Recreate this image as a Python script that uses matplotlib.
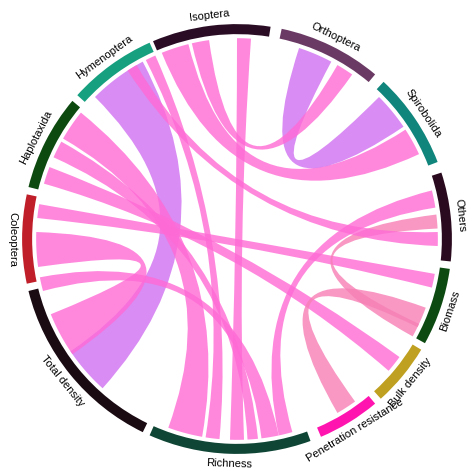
import numpy as np
import matplotlib.pyplot as plt
from matplotlib.path import Path
from matplotlib.patches import PathPatch, Wedge

plt.rcParams['font.family'] = ['Liberation Sans', 'DejaVu Sans']

# SECTION Data

names = ["Isoptera", "Orthoptera", "Spirobolida", "Others", "Biomass", "Bulk density",
         "Penetration resistance", "Richness", "Total density", "Coleoptera",
         "Haplotaxida", "Hymenoptera"]
# start / end angle of each sector (degrees, counter-clockwise from east)
starts = [81, 50, 21, -6, -29, -48, -67, -114, -166, 168, 140, 114]
ends = [113, 78, 47, 18, -8, -31, -50, -70, -116, 192, 166, 138]
seg_colors = ["#2a0d24", "#6b3a64", "#0f857b", "#2a0a1e", "#0d4a12", "#bfa020",
              "#ff14b0", "#0f4535", "#1a0a12", "#c01f2a", "#0d4a10", "#16a080"]

# links: (from a1, a2, to b1, b2, colour)
pink = "#ff6ad5"
purple = "#d070f0"
rose = "#f77fb5"
links = [
    (104, 112, 25, 33, pink),
    (62, 72, 34, 45, purple),
    (55, 60, 98, 103, pink),
    (86, 90, -92, -88, pink),
    (118, 135, -146, -132, purple),
    (114, 117, -99, -95, pink),
    (141, 150, -110, -100, pink),
    (151, 156, -87, -84, pink),
    (159, 164, -41, -36, pink),
    (170, 174, -14, -10, pink),
    (178, 188, -158, -145, pink),
    (191, 195, -83, -78, pink),
    (9, 14, -78, -74, pink),
    (3, 7, -29, -25, rose),
    (-26, -20, -60, -54, rose),
    (120, 123, -2, 2, pink),
]

# SECTION Plot

fig = plt.figure(figsize=(4.74, 4.74), dpi=100)
ax = fig.add_axes([0, 0, 1, 1])
ax.set_xlim(-1.18, 1.18)
ax.set_ylim(-1.17, 1.19)
ax.set_aspect("equal")
ax.axis("off")

R = 1.0


def arc_pts(a, b, n=30):
    t = np.radians(np.linspace(a, b, n))
    return list(zip(R * np.cos(t), R * np.sin(t)))


def chord(a1, a2, b1, b2, color):
    p = arc_pts(a1, a2)
    q = arc_pts(b1, b2)
    verts = p + [(0, 0), q[0]] + q[1:] + [(0, 0), p[0], p[0]]
    codes = ([Path.MOVETO] + [Path.LINETO] * (len(p) - 1) + [Path.CURVE3, Path.CURVE3]
             + [Path.LINETO] * (len(q) - 1) + [Path.CURVE3, Path.CURVE3, Path.CLOSEPOLY])
    ax.add_patch(PathPatch(Path(verts, codes), facecolor=color, edgecolor="none", alpha=0.8))


for a1, a2, b1, b2, c in links:
    chord(a1, a2, b1, b2, c)

for name, s, e, c in zip(names, starts, ends, seg_colors):
    ax.add_patch(Wedge((0, 0), 1.07, s, e, width=0.05, facecolor=c, edgecolor="none"))
    mid = (s + e) / 2
    if name == "Coleoptera":
        mid = -180
    rot = mid - 90 if mid > 0 else mid + 90
    t = np.radians(mid)
    ax.text(1.12 * np.cos(t), 1.12 * np.sin(t), name, rotation=rot,
            ha="center", va="center", fontsize=8, rotation_mode="anchor")

plt.savefig("out.png", dpi=100)
